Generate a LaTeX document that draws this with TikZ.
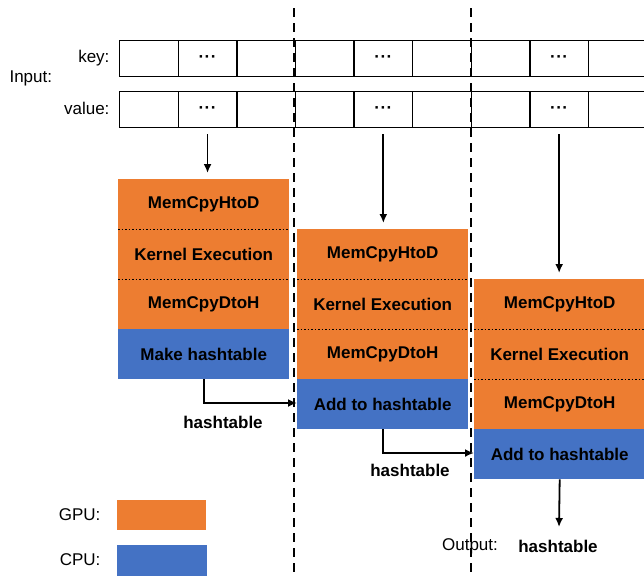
\documentclass[tikz,border=0pt]{standalone}
\usepackage{fontspec}
\setmainfont{Liberation Sans}
\usetikzlibrary{arrows.meta}
\definecolor{gpu}{HTML}{ED7D31}
\definecolor{cpu}{HTML}{4472C4}
\begin{document}
\begin{tikzpicture}[x=1pt,y=-1pt,
 cell/.style={draw,line width=1.3pt,minimum width=58.6pt,minimum height=36pt,inner sep=0,anchor=north west},
 blk/.style={minimum width=171pt,minimum height=50pt,inner sep=0,anchor=north west,font=\fontsize{17}{20}\selectfont\bfseries},
 gpub/.style={blk,fill=gpu},
 cpub/.style={blk,fill=cpu},
 lbl/.style={font=\fontsize{17}{20}\selectfont},
 blbl/.style={font=\fontsize{17}{20}\selectfont\bfseries},
 dotsl/.style={font=\fontsize{17}{20}\selectfont\bfseries},
 arr/.style={line width=1.8pt,-{Latex[length=9pt,width=8pt]}},
 sep/.style={line width=1.5pt,dash pattern=on 1.5pt off 2pt},
 divider/.style={line width=2.2pt,dash pattern=on 9pt off 6pt}]
\useasboundingbox (0,0) rectangle (644,576);
% input rows
\foreach \i in {1,...,9}{
  \node[cell] (k\i) at ({119+(\i-1)*58.6},40) {};
  \node[cell] (v\i) at ({119+(\i-1)*58.6},91) {};
}
\foreach \i in {2,5,8}{
  \node[dotsl] (kd\i) at (k\i.center) {·\kern0.5pt·\kern0.5pt·};
  \node[dotsl] (vd\i) at (v\i.center) {·\kern0.5pt·\kern0.5pt·};
}
\node[lbl,anchor=west] (inp) at (6,78) {Input:};
\node[lbl,anchor=east] (keyl) at (113,58) {key:};
\node[lbl,anchor=east] (vall) at (113,108) {value:};
% column 1
\node[gpub] (c1a) at (118,179) {MemCpyHtoD};
\node[gpub] (c1b) at (118,229) {Kernel Execution};
\node[gpub] (c1c) at (118,279) {MemCpyDtoH};
\node[cpub] (c1d) at (118,329) {Make hashtable};
% column 2
\node[gpub] (c2a) at (297,229) {MemCpyHtoD};
\node[gpub] (c2b) at (297,279) {Kernel Execution};
\node[gpub] (c2c) at (297,329) {MemCpyDtoH};
\node[cpub] (c2d) at (297,379) {Add to hashtable};
% column 3
\node[gpub] (c3a) at (474,279) {MemCpyHtoD};
\node[gpub] (c3b) at (474,329) {Kernel Execution};
\node[gpub] (c3c) at (474,379) {MemCpyDtoH};
\node[cpub] (c3d) at (474,429) {Add to hashtable};
% dotted separators
\foreach \c in {1,2,3}{
  \draw[sep] (c\c a.south west) -- (c\c a.south east);
  \draw[sep] (c\c b.south west) -- (c\c b.south east);
}
% dividers
\draw[divider] (294,8) -- (294,576);
\draw[divider] (471,8) -- (471,576);
% arrows from input
\draw[arr] ([yshift=-6pt]v2.south) -- ([yshift=6pt]v2.south |- c1a.north);
\draw[arr] ([yshift=-6pt]v5.south) -- ([yshift=6pt]v5.south |- c2a.north);
\draw[arr] ([yshift=-6pt]v8.south) -- ([yshift=6pt]v8.south |- c3a.north);
% hashtable connectors
\coordinate (j1) at (297,403);
\coordinate (j2) at (474,453);
\draw[arr] (c1d.south) |- (j1);
\draw[arr] (c2d.south) |- (j2);
\node[blbl] (h1) at (223,422) {hashtable};
\node[blbl] (h2) at (410,470) {hashtable};
% output
\node[lbl] (outl) at (470,546) {Output:};
\node[blbl] (outh) at (558,546) {hashtable};
\coordinate (otip) at (559,527);
\draw[arr] (c3d.south) -- (otip);
% legend
\node[lbl,anchor=east] (gl) at (104,515) {GPU:};
\node[fill=gpu,minimum width=89pt,minimum height=30pt,inner sep=0,anchor=north west] (gbox) at (117,500) {};
\node[lbl,anchor=east] (cl) at (104,560) {CPU:};
\node[fill=cpu,minimum width=90pt,minimum height=31pt,inner sep=0,anchor=north west] (cbox) at (117,545) {};
\end{tikzpicture}
\end{document}
